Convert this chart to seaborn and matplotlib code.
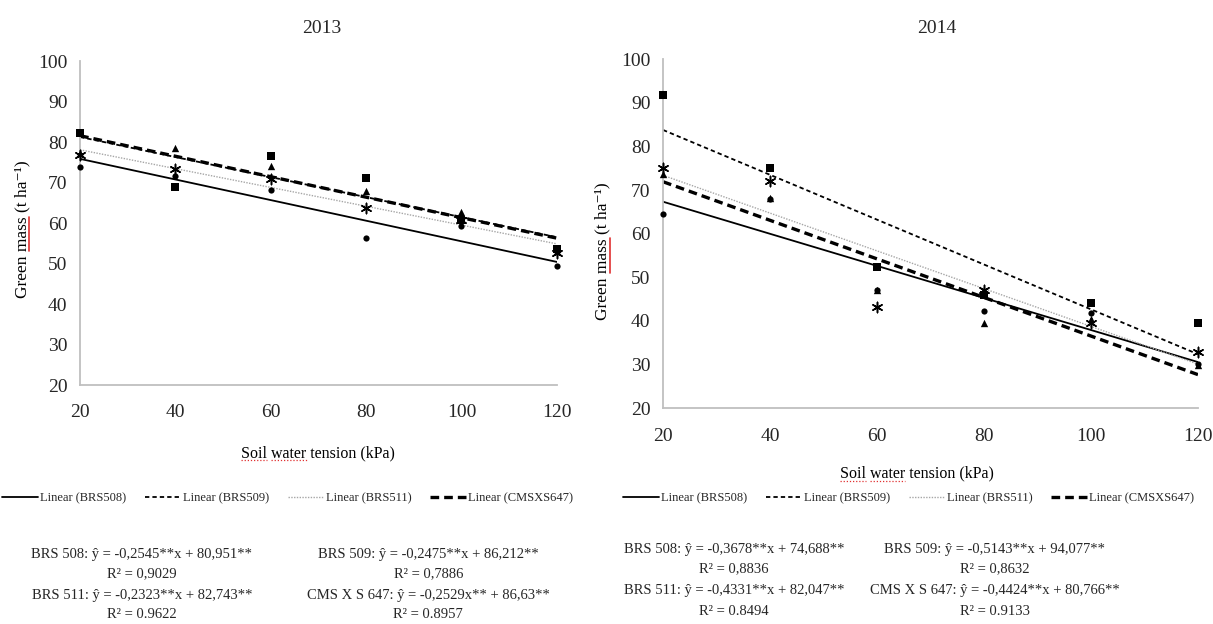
import numpy as np
import pandas as pd
import matplotlib
matplotlib.use("Agg")
import matplotlib.pyplot as plt
from matplotlib.lines import Line2D
import seaborn as sns

# soil water tension levels (kPa)
tension = [20, 40, 60, 80, 100, 120]
cultivars = ["BRS508", "BRS509", "BRS511", "CMSXS647"]

# green mass (t/ha)
mass_2013 = {
    "BRS508":   [73.8, 71.7, 68.2, 56.4, 59.3, 49.4],
    "BRS509":   [82.2, 68.9, 76.6, 71.2, 60.8, 53.6],
    "BRS511":   [76.9, 73.3, 71.0, 63.8, 60.8, 52.5],
    "CMSXS647": [77.2, 78.6, 74.2, 67.9, 62.7, 53.0],
}
mass_2014 = {
    "BRS508":   [64.5, 68.0, 47.0, 42.3, 41.9, 30.0],
    "BRS509":   [91.8, 75.0, 52.3, 46.0, 44.1, 39.5],
    "BRS511":   [75.0, 72.1, 43.2, 47.0, 39.6, 32.8],
    "CMSXS647": [73.8, 68.1, 47.0, 39.6, 40.5, 29.8],
}

# regression coefficients from the equations
slope_2013 = [-0.2545, -0.2475, -0.2323, -0.2529]
icept_2013 = [80.951, 86.212, 82.743, 86.63]
slope_2014 = [-0.3678, -0.5143, -0.4331, -0.4424]
icept_2014 = [74.688, 94.077, 82.047, 80.766]

eq_2013 = [
    "BRS 508: ŷ = -0,2545**x + 80,951**", "R² = 0,9029",
    "BRS 509: ŷ = -0,2475**x + 86,212**", "R² = 0,7886",
    "BRS 511: ŷ = -0,2323**x + 82,743**", "R² = 0.9622",
    "CMS X S 647: ŷ = -0,2529x** + 86,63**", "R² = 0.8957",
]
eq_2014 = [
    "BRS 508: ŷ = -0,3678**x + 74,688**", "R² = 0,8836",
    "BRS 509: ŷ = -0,5143**x + 94,077**", "R² = 0,8632",
    "BRS 511: ŷ = -0,4331**x + 82,047**", "R² = 0.8494",
    "CMS X S 647: ŷ = -0,4424**x + 80,766**", "R² = 0.9133",
]

sns.set_theme(style="white")
plt.rcParams["font.family"] = ["Liberation Serif", "DejaVu Serif"]

markers = {"BRS508": "o", "BRS509": "s", "BRS511": (6, 2, 0), "CMSXS647": "^"}
msize = {"BRS508": 20, "BRS509": 26, "BRS511": 55, "CMSXS647": 28}
line_kw = {
    "BRS508":   dict(color="black", lw=1.3, linestyle="-"),
    "BRS509":   dict(color="black", lw=1.3, linestyle=(0, (2.4, 1.7))),
    "BRS511":   dict(color="#a6a6a6", lw=1.0, linestyle=(0, (1, 1))),
    "CMSXS647": dict(color="black", lw=2.4, linestyle=(0, (2.6, 1.5))),
}


def panel(ax, data, slopes, icepts):
    df = pd.DataFrame([(t, c, v) for c in cultivars
                       for t, v in zip(tension, data[c])],
                      columns=["tension", "cultivar", "mass"])
    handles = []
    for c, a, b in zip(cultivars, slopes, icepts):
        xs = np.array([tension[0], tension[-1]])
        sns.lineplot(x=xs, y=a * xs + b, ax=ax, label=f"Linear ({c})",
                     legend=False, **line_kw[c])
        handles.append(ax.lines[-1])
    for c in cultivars:
        sub = df[df["cultivar"] == c]
        sns.scatterplot(data=sub, x="tension", y="mass", ax=ax,
                        marker=markers[c], s=msize[c], color="black",
                        edgecolor="black", linewidth=1.1 if c == "BRS511" else 0,
                        clip_on=False, zorder=3, legend=False)
    ax.set_xlim(20, 120)
    ax.set_ylim(20, 100)
    ax.set_xticks(tension)
    ax.set_yticks(range(20, 101, 10))
    ax.tick_params(length=0, labelsize=14, labelcolor="#262626")
    ax.tick_params(axis="x", pad=14)
    ax.tick_params(axis="y", pad=9)
    for s in ["top", "right"]:
        ax.spines[s].set_visible(False)
    for s in ["left", "bottom"]:
        ax.spines[s].set_color("#bfbfbf")
        ax.spines[s].set_linewidth(1.3)
    ax.set_xlabel("Soil water tension (kPa)", fontsize=11.5, color="black")
    ax.set_ylabel("Green mass (t ha⁻¹)", fontsize=12.5, color="black")
    return handles


fig = plt.figure(figsize=(12.13, 6.24), dpi=100)
ax1 = fig.add_axes([0.066, 0.383, 0.393, 0.519])
ax2 = fig.add_axes([0.5466, 0.346, 0.441, 0.559])

h1 = panel(ax1, mass_2013, slope_2013, icept_2013)
h2 = panel(ax2, mass_2014, slope_2014, icept_2014)

ax1.xaxis.set_label_coords(0.50, -0.185)
ax1.yaxis.set_label_coords(-0.105, 0.48)
ax2.xaxis.set_label_coords(0.475, -0.165)
ax2.yaxis.set_label_coords(-0.098, 0.45)

fig.text(0.265, 0.955, "2013", ha="center", va="center", fontsize=14)
fig.text(0.772, 0.955, "2014", ha="center", va="center", fontsize=14)

leg_kw = dict(ncol=4, frameon=False, fontsize=9, handlelength=2.9,
              handletextpad=0.15, columnspacing=1.5, loc="center")
fig.legend(handles=h1, labels=[h.get_label() for h in h1],
           bbox_to_anchor=(0.237, 0.202), **leg_kw)
fig.legend(handles=h2, labels=[h.get_label() for h in h2],
           bbox_to_anchor=(0.749, 0.202), **leg_kw)

rows_l = [0.111, 0.080, 0.045, 0.015]
rows_r = [0.120, 0.089, 0.053, 0.020]
cols_l = [0.117, 0.353]
cols_r = [0.605, 0.820]
for eqs, cols, rows in [(eq_2013, cols_l, rows_l), (eq_2014, cols_r, rows_r)]:
    for k in range(4):
        col = cols[k % 2]
        r0 = rows[(k // 2) * 2]
        r1 = rows[(k // 2) * 2 + 1]
        fig.text(col, r0, eqs[2 * k], ha="center", va="center", fontsize=10.5)
        fig.text(col, r1, eqs[2 * k + 1], ha="center", va="center", fontsize=10.5)

# spell-check underlines seen in the source image
fig.canvas.draw()
rend = fig.canvas.get_renderer()


def text_w(s, lab):
    t = fig.text(0, 0, s, fontproperties=lab.get_fontproperties())
    w = t.get_window_extent(rend).width
    t.remove()
    return w


H = fig.bbox.height
W = fig.bbox.width
for ax in (ax1, ax2):
    ylab = ax.yaxis.label
    bb = ylab.get_window_extent(rend)
    y_a = bb.y0 + text_w("Green ", ylab)
    y_b = bb.y0 + text_w("Green mass", ylab)
    xu = bb.x1 - 1
    fig.add_artist(Line2D([xu / W, xu / W], [y_a / H, y_b / H],
                          color="#e03030", lw=1.2, transform=fig.transFigure))
    xlab = ax.xaxis.label
    bb = xlab.get_window_extent(rend)
    yu = bb.y0 + 1
    for pre, word in [("", "Soil"), ("Soil ", "water")]:
        x_a = bb.x0 + text_w(pre, xlab) if pre else bb.x0
        x_b = bb.x0 + text_w(pre + word, xlab)
        fig.add_artist(Line2D([x_a / W, x_b / W], [yu / H, yu / H],
                              color="#e03030", lw=0.9, linestyle=(0, (1, 1.5)),
                              transform=fig.transFigure))

fig.savefig("out.png", dpi=100, facecolor="white")
